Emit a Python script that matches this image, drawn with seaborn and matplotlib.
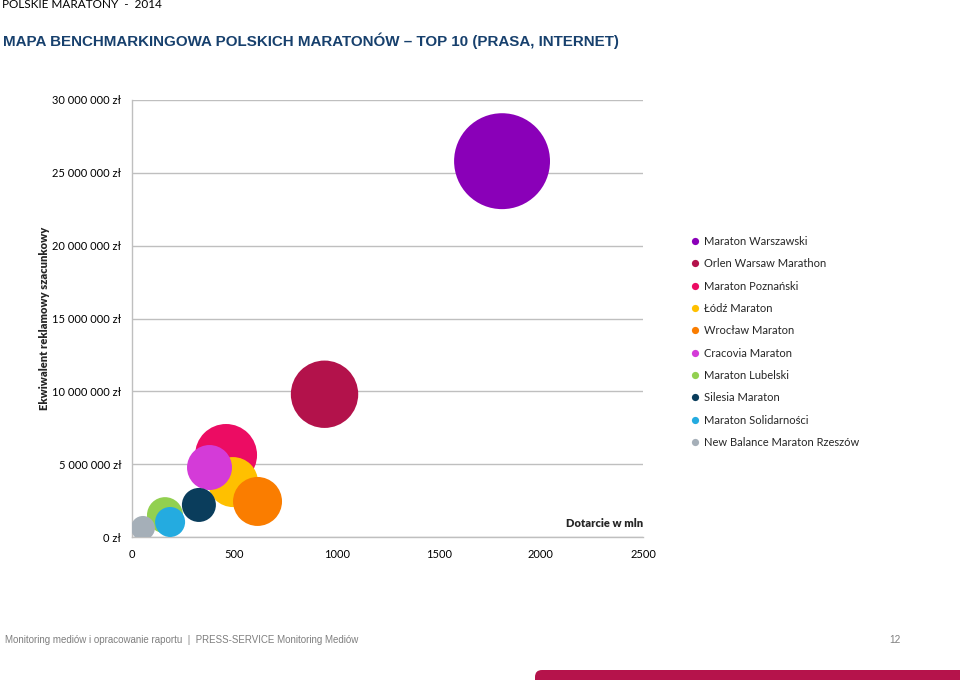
import matplotlib
matplotlib.use("Agg")
import matplotlib.pyplot as plt
import matplotlib.patches as mpatches
from matplotlib.lines import Line2D
from matplotlib.transforms import IdentityTransform
import seaborn as sns
import pandas as pd

# ---- data ----
names = ["Maraton Warszawski", "Orlen Warsaw Marathon", "Maraton Poznański",
         "Łódź Maraton", "Wrocław Maraton", "Cracovia Maraton",
         "Maraton Lubelski", "Silesia Maraton", "Maraton Solidarności",
         "New Balance Maraton Rzeszów"]
reach = [1810, 941, 459, 493, 613, 378, 160, 326, 185, 52]          # Dotarcie w mln
ave = [25.8e6, 9.8e6, 5.63e6, 3.77e6, 2.44e6, 4.77e6, 1.5e6, 2.2e6, 1.03e6, 0.62e6]  # zł
bubble = [2300, 1135, 960, 625, 600, 506, 324, 289, 225, 144]      # bubble size (area)
colors = ["#8A00B8", "#B3124B", "#EC0C63", "#FFC000", "#FA7D00",
          "#D43BD8", "#92D050", "#0A3D5C", "#24ABE0", "#A5AFB8"]
xticks = [0, 500, 1000, 1500, 2000, 2500]
yticks = [0, 5e6, 10e6, 15e6, 20e6, 25e6, 30e6]
ytick_labels = ["0 zł", "5 000 000 zł", "10 000 000 zł", "15 000 000 zł",
                "20 000 000 zł", "25 000 000 zł", "30 000 000 zł"]

df = pd.DataFrame({"name": names, "reach": reach, "ave": ave, "bubble": bubble})

sns.set_style("white")
plt.rcParams["font.family"] = ["Lato", "DejaVu Sans"]

fig = plt.figure(figsize=(9.6, 6.8), dpi=100)
ax = fig.add_axes([132.3 / 960, 1 - 537 / 680, (643 - 132.3) / 960, (537 - 100) / 680])

smax = 2.07 * 48 ** 2
sns.scatterplot(data=df, x="reach", y="ave", hue="name", palette=colors,
                size="bubble", sizes=(0, smax), size_norm=(0, max(bubble)),
                linewidth=0, alpha=1, legend=False, ax=ax, zorder=3)

ax.set_xlim(0, 2500)
ax.set_ylim(0, 30e6)
ax.set_xticks(xticks)
ax.set_xticklabels([str(t) for t in xticks])
ax.set_yticks(yticks)
ax.set_yticklabels(ytick_labels)
ax.tick_params(axis="both", labelsize=8, colors="#000000", length=3, width=0.8)
ax.tick_params(axis="x", length=0, pad=9)
ax.tick_params(axis="y", color="#BFBFBF", pad=5)
ax.yaxis.grid(True, color="#BFBFBF", linewidth=1)
ax.xaxis.grid(False)
for s in ["top", "right"]:
    ax.spines[s].set_visible(False)
for s in ["left", "bottom"]:
    ax.spines[s].set_color("#BFBFBF")
    ax.spines[s].set_linewidth(1)
ax.set_xlabel("")
ax.set_ylabel("")

fig.text(45 / 960, 1 - 318 / 680, "Ekwiwalent reklamowy szacunkowy", rotation=90,
         ha="center", va="center", fontsize=8, fontweight="heavy")
ax.text(1.0, 0.019, "Dotarcie w mln", transform=ax.transAxes, ha="right", va="bottom",
        fontsize=8, fontweight="heavy")

handles = [Line2D([0], [0], marker="o", linestyle="", markersize=5.2,
                  markerfacecolor=c, markeredgewidth=0) for c in colors]
fig.legend(handles, names, loc="upper left", bbox_to_anchor=(691 / 960, 1 - 236 / 680),
           frameon=False, fontsize=8, handlelength=0.8, handletextpad=0.4,
           labelspacing=1.02, borderpad=0, borderaxespad=0)

# header
fig.text(2 / 960, 1 - 5 / 680, "POLSKIE MARATONY  -  2014", ha="left", va="center",
         fontsize=8.5, color="#000000")
fig.text(3 / 960, 1 - 41 / 680,
         "MAPA BENCHMARKINGOWA POLSKICH MARATONÓW – TOP 10 (PRASA, INTERNET)",
         ha="left", va="center", fontsize=10.9, fontweight="bold", color="#17406D",
         family=["Liberation Sans", "DejaVu Sans"])

# footer
fig.text(5 / 960, 1 - 640 / 680,
         "Monitoring mediów i opracowanie raportu  |  PRESS-SERVICE Monitoring Mediów",
         ha="left", va="center", fontsize=7.0, color="#7F7F7F",
         family=["Liberation Sans Narrow", "Liberation Sans", "DejaVu Sans"])
fig.text(895 / 960, 1 - 640 / 680, "12", ha="center", va="center", fontsize=7.2,
         color="#7F7F7F", family=["Liberation Sans Narrow", "Liberation Sans", "DejaVu Sans"])
bar = mpatches.FancyBboxPatch((535, -12), 500, 22,
                              boxstyle="round,pad=0,rounding_size=7",
                              transform=IdentityTransform(), facecolor="#B5134B",
                              edgecolor="none")
fig.patches.append(bar)

fig.savefig("out.png", dpi=100)
